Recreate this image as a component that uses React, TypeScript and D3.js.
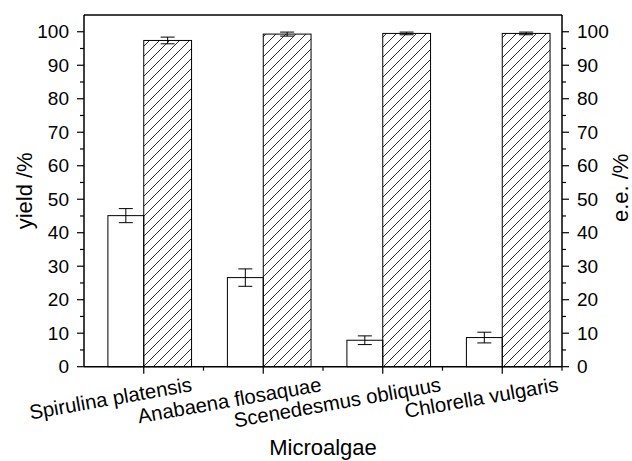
import React from "react";
import * as d3 from "d3";

const categories = ["Spirulina platensis", "Anabaena flosaquae", "Scenedesmus obliquus", "Chlorella vulgaris"];
const yieldValues = [45.1, 26.6, 7.9, 8.7];
const yieldErrors = [2.1, 2.6, 1.3, 1.6];
const eeValues = [97.4, 99.3, 99.5, 99.5];
const eeErrors = [1.0, 0.6, 0.4, 0.4];
const yTicks = [0, 10, 20, 30, 40, 50, 60, 70, 80, 90, 100];
const yMinorTicks = [5, 15, 25, 35, 45, 55, 65, 75, 85, 95];

const W = 632;
const H = 461;
const L = 84;
const R = 562;
const T = 15;
const B = 366.7;
const FONT = "'Liberation Sans', Arial, sans-serif";
const labelOffsets = [49, 59, 59, 57];

export default function App() {
  const x = d3.scaleLinear().domain([0.5, categories.length + 0.5]).range([L, R]);
  const y = d3.scaleLinear().domain([0, 105]).range([B, T]);
  const unit = x(2) - x(1);
  const hollowW = unit * 0.3;
  const hatchW = unit * 0.4;
  const capHalf = 7;
  const hp = 10;

  const errBar = (cx: number, v: number, e: number, key: string) => (
    <g key={key} stroke="#000" strokeWidth={1}>
      <line x1={cx} x2={cx} y1={y(v - e)} y2={y(v + e)} />
      <line x1={cx - capHalf} x2={cx + capHalf} y1={y(v - e)} y2={y(v - e)} />
      <line x1={cx - capHalf} x2={cx + capHalf} y1={y(v + e)} y2={y(v + e)} />
    </g>
  );

  return (
    <svg width={W} height={H} style={{ position: "absolute", left: 0, top: 0 }} fontFamily={FONT}>
      <defs>
        <pattern id="hatch" patternUnits="userSpaceOnUse" width={hp} height={hp}>
          <path d={`M-1,1 l2,-2 M0,${hp} l${hp},-${hp} M${hp - 1},${hp + 1} l2,-2`} stroke="#111" strokeWidth={0.9} />
        </pattern>
      </defs>
      <rect width={W} height={H} fill="#fff" />

      {categories.map((c, i) => {
        const cx = x(i + 1);
        return (
          <g key={c}>
            <rect x={cx - hollowW} y={y(yieldValues[i])} width={hollowW} height={B - y(yieldValues[i])}
              fill="#fff" stroke="#000" strokeWidth={1} />
            <rect x={cx} y={y(eeValues[i])} width={hatchW} height={B - y(eeValues[i])}
              fill="url(#hatch)" stroke="#000" strokeWidth={1} />
            {errBar(cx - hollowW / 2, yieldValues[i], yieldErrors[i], "ey" + i)}
            {errBar(cx + hatchW / 2, eeValues[i], eeErrors[i], "ee" + i)}
          </g>
        );
      })}

      <g stroke="#000" strokeWidth={1.5} fill="none">
        <line x1={L} x2={R} y1={T} y2={T} />
        <line x1={L} x2={R} y1={B} y2={B} />
        <line x1={L} x2={L} y1={T} y2={B} />
        <line x1={R} x2={R} y1={T} y2={B} />
      </g>

      <g stroke="#000" strokeWidth={1.2}>
        {yTicks.map((t) => (
          <g key={"t" + t}>
            <line x1={L - 7} x2={L} y1={y(t)} y2={y(t)} />
            <line x1={R} x2={R + 7} y1={y(t)} y2={y(t)} />
          </g>
        ))}
        {yMinorTicks.map((t) => (
          <g key={"m" + t}>
            <line x1={L - 4} x2={L} y1={y(t)} y2={y(t)} />
            <line x1={R} x2={R + 4} y1={y(t)} y2={y(t)} />
          </g>
        ))}
        {categories.map((c, i) => (
          <g key={"xt" + i}>
            <line x1={x(i + 1)} x2={x(i + 1)} y1={B} y2={B + 7} />
            <line x1={x(i + 1.5)} x2={x(i + 1.5)} y1={B} y2={B + 4} />
          </g>
        ))}
      </g>

      <g fontSize={19} fill="#000">
        {yTicks.map((t) => (
          <g key={"l" + t}>
            <text x={L - 15} y={y(t)} dy="0.35em" textAnchor="end">{t}</text>
            <text x={R + 15} y={y(t)} dy="0.35em" textAnchor="start">{t}</text>
          </g>
        ))}
      </g>

      <g fontSize={20.3} fill="#000">
        {categories.map((c, i) => {
          const ax = x(i + 1) + labelOffsets[i];
          const ay = 391;
          return (
            <text key={"c" + i} x={ax} y={ay} textAnchor="end" transform={`rotate(-10 ${ax} ${ay})`}>{c}</text>
          );
        })}
      </g>

      <text x={(L + R) / 2} y={455} textAnchor="middle" fontSize={22}>Microalgae</text>
      <text transform={`translate(32 ${(T + B) / 2}) rotate(-90)`} textAnchor="middle" fontSize={22}>yield /%</text>
      <text transform={`translate(628 ${(T + B) / 2 - 3}) rotate(-90)`} textAnchor="middle" fontSize={22}>e.e. /%</text>
    </svg>
  );
}
